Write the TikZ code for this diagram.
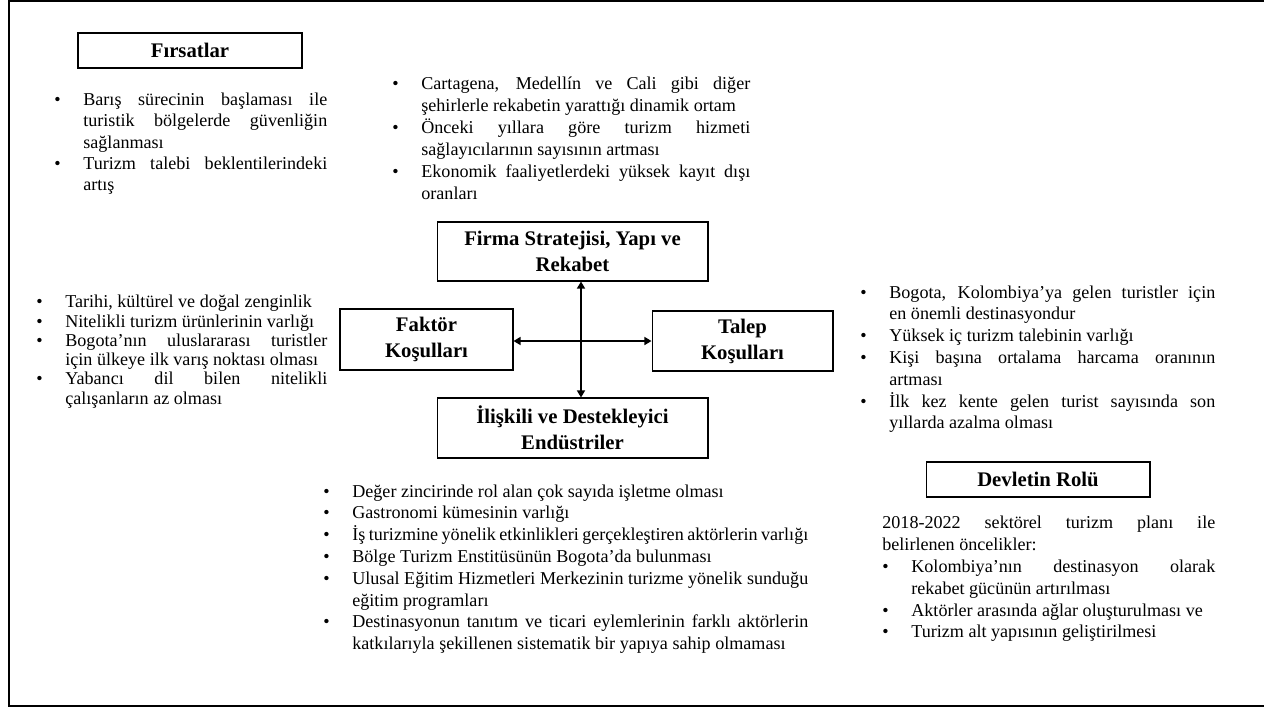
\documentclass[tikz,border=0pt]{standalone}
\usepackage{fontspec}
\setmainfont{Liberation Serif}
\usepackage{enumitem}
\usetikzlibrary{arrows.meta}
\setlist[itemize]{nosep,label=\textbullet,leftmargin=0.58cm,labelindent=0pt,labelwidth=0.58cm,labelsep=0pt,align=left}
\hyphenpenalty=10000
\exhyphenpenalty=10000

\begin{document}
\begin{tikzpicture}[x=0.02cm, y=-0.02cm,
	box/.style={draw, line width=0.6pt, inner sep=0pt, align=center, font=\fontsize{11.8}{14.8}\selectfont\bfseries},
	list/.style={anchor=north west, inner sep=0pt, align=justify, font=\fontsize{10.3}{12.4}\selectfont},
	link/.style={line width=1.1pt, {Triangle[length=4pt,width=4.5pt]}-{Triangle[length=4pt,width=4.5pt]}}]
	
	\useasboundingbox (0,0) rectangle (1264,708);
	\draw[line width=1.1pt] (1270,1) -| (9,706) -- (1270,706);
	
	% basliklar
	\node[box, minimum width=4.48cm, minimum height=0.7cm] (firsat) at (190,50.5) {Fırsatlar};
	\node[box, minimum width=4.48cm, minimum height=0.7cm] (devlet) at (1038,479.5) {Devletin Rolü};
	
	% elmas
	\node[box, minimum width=5.42cm, minimum height=1.18cm] (firma) at (572.5,251.5) {Firma Stratejisi, Yapı ve\\Rekabet};
	\node[box, minimum width=3.46cm, minimum height=1.22cm] (faktor) at (426.5,339.5) {Faktör\\Koşulları};
	\node[box, minimum width=3.62cm, minimum height=1.2cm] (talep) at (742.5,341) {Talep\\Koşulları};
	\node[box, minimum width=5.42cm, minimum height=1.2cm] (iliskili) at (572.5,428) {İlişkili ve Destekleyici\\Endüstriler};
	
	\coordinate (cross) at (581,341);
	\path (faktor.east |- cross) edge[link] (talep.west |- cross);
	\path (firma.south -| cross) edge[link] (iliskili.north -| cross);
	
	% listeler
	\node[list, text width=5.46cm, font=\fontsize{10.3}{12.1}\selectfont] (firsatlist) at (54,84) {%
		\begin{itemize}
			\item Barış sürecinin başlaması ile\linebreak turistik bölgelerde güvenliğin\linebreak sağlanması
			\item Turizm talebi beklentilerindeki\linebreak artış
		\end{itemize}};
	
	\node[list, text width=7.16cm, font=\fontsize{10.3}{12.5}\selectfont] (firmalist) at (392,67) {%
		\begin{itemize}
			\item Cartagena, Medellín ve Cali gibi diğer\linebreak şehirlerle rekabetin yarattığı dinamik ortam
			\item Önceki yıllara göre turizm hizmeti\linebreak sağlayıcılarının sayısının artması
			\item Ekonomik faaliyetlerdeki yüksek kayıt dışı\linebreak oranları
		\end{itemize}};
	
	\node[list, text width=5.82cm, font=\fontsize{10.3}{11}\selectfont] (faktorlist) at (36,288) {%
		\begin{itemize}
			\item Tarihi, kültürel ve doğal zenginlik
			\item Nitelikli turizm ürünlerinin varlığı
			\item Bogota’nın uluslararası turistler\linebreak için ülkeye ilk varış noktası olması
			\item Yabancı dil bilen nitelikli\linebreak çalışanların az olması
		\end{itemize}};
	
	\node[list, text width=7.1cm] (taleplist) at (860,276) {%
		\begin{itemize}
			\item Bogota, Kolombiya’ya gelen turistler için\linebreak en önemli destinasyondur
			\item Yüksek iç turizm talebinin varlığı
			\item Kişi başına ortalama harcama oranının\linebreak artması
			\item İlk kez kente gelen turist sayısında son\linebreak yıllarda azalma olması
		\end{itemize}};
	
	\node[list, text width=9.7cm] (iliskililist) at (323,475) {%
		\begin{itemize}
			\item Değer zincirinde rol alan çok sayıda işletme olması
			\item Gastronomi kümesinin varlığı
			\item İş turizmine yönelik etkinlikleri gerçekleştiren aktörlerin varlığı
			\item Bölge Turizm Enstitüsünün Bogota’da bulunması
			\item Ulusal Eğitim Hizmetleri Merkezinin turizme yönelik sunduğu\linebreak eğitim programları
			\item Destinasyonun tanıtım ve ticari eylemlerinin farklı aktörlerin\linebreak katkılarıyla şekillenen sistematik bir yapıya sahip olmaması
		\end{itemize}};
	
	\node[list, text width=6.66cm] (devletlist) at (882,516) {%
		\noindent 2018-2022 sektörel turizm planı ile\linebreak belirlenen öncelikler:
		\begin{itemize}
			\item Kolombiya’nın destinasyon olarak\linebreak rekabet gücünün artırılması
			\item Aktörler arasında ağlar oluşturulması ve
			\item Turizm alt yapısının geliştirilmesi
		\end{itemize}};
	
\end{tikzpicture}
\end{document}
